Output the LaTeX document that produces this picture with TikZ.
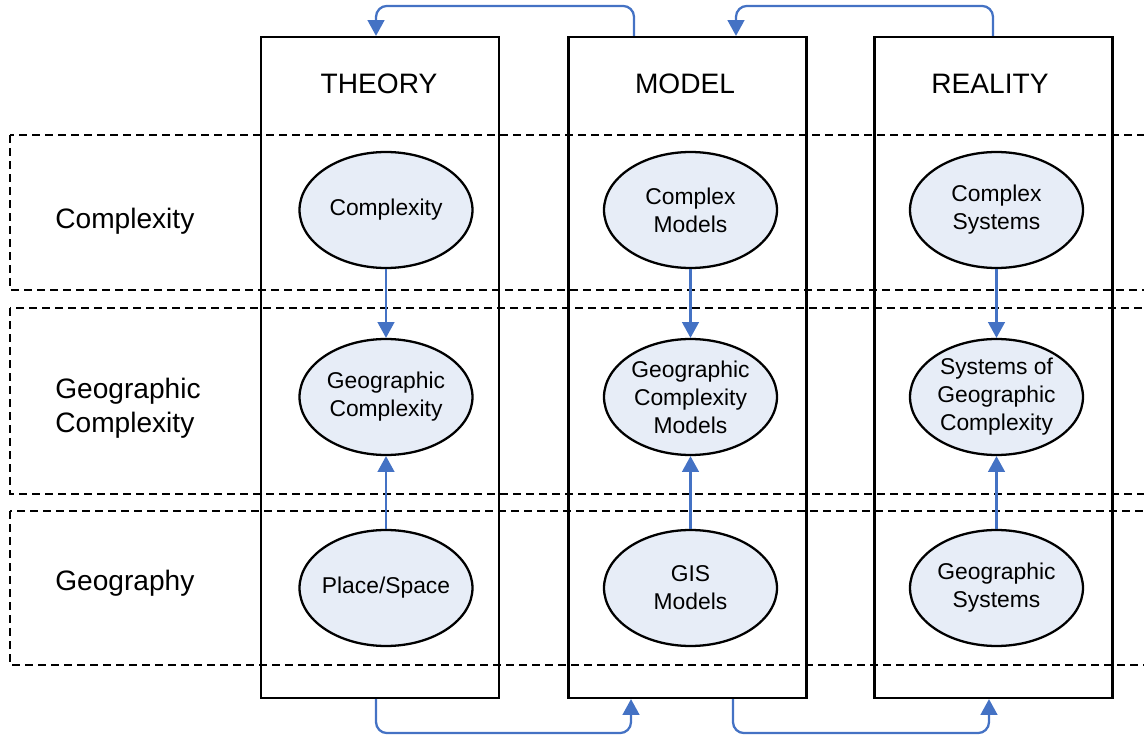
\documentclass[tikz,border=0pt]{standalone}
\usepackage{fontspec}
\setmainfont{Liberation Sans}
\usetikzlibrary{shapes.geometric,arrows.meta}
\definecolor{flowblue}{RGB}{68,114,196}
\definecolor{bubblefill}{RGB}{231,237,247}
\tikzset{
    rowband/.style={line width=1.3pt, dash pattern=on 4.6pt off 2.8pt},
    colbox/.style={draw, line width=1.3pt, minimum width=4.76cm, minimum height=13.22cm, inner sep=0pt},
    coltitle/.style={font=\fontsize{16}{19}\selectfont},
    rowlabel/.style={anchor=west, align=left, inner sep=0pt, font=\fontsize{16}{19.3}\selectfont},
    bubble/.style={ellipse, draw, line width=1.3pt, fill=bubblefill, minimum width=3.46cm, minimum height=2.32cm, inner xsep=-0.12cm, inner ysep=0pt, align=center, font=\fontsize{13}{15.9}\selectfont},
    flow/.style={draw=flowblue, line width=1.3pt, rounded corners=0.22cm, -{Triangle[length=9pt,width=9.5pt]}},
}
\begin{document}
\begin{tikzpicture}[x=0.02cm, y=-0.02cm]
        \useasboundingbox (0,0) rectangle (1144,740);
        \clip (0,0) rectangle (1144,740);

        \draw[rowband] (10,135) rectangle (1170,290);
        \draw[rowband] (10,308) rectangle (1170,494);
        \draw[rowband] (10,511) rectangle (1170,665);

        \node[rowlabel] (rowcx) at (55,221) {Complexity};
        \node[rowlabel] (rowgeocx) at (55,408) {Geographic\\Complexity};
        \node[rowlabel] (rowgeo) at (55,583) {Geography};

        \node[colbox] (theory) at (380,367.5) {};
        \node[colbox] (model) at (687.5,367.5) {};
        \node[colbox] (reality) at (993.5,367.5) {};

        \node[coltitle] (theorytitle) at (379,84) {THEORY};
        \node[coltitle] (modeltitle) at (685,84) {MODEL};
        \node[coltitle] (realitytitle) at (990,84) {REALITY};

        \node[bubble] (complexity) at (386,210) {Complexity};
        \node[bubble] (geocomplexity) at (386,397) {Geographic\\Complexity};
        \node[bubble] (placespace) at (386,588) {Place/Space};

        \node[bubble] (complexmodels) at (690.5,210) {Complex\\Models};
        \node[bubble] (geomodels) at (690.5,397) {Geographic\\Complexity\\Models};
        \node[bubble] (gismodels) at (690.5,588) {GIS\\Models};

        \node[bubble] (complexsystems) at (996.5,210) {Complex\\Systems};
        \node[bubble] (geosystems) at (996.5,397) {Systems of\\Geographic\\Complexity};
        \node[bubble] (geographicsystems) at (996.5,588) {Geographic\\Systems};

        \draw[flow] (complexity) -- (geocomplexity);
        \draw[flow] (placespace) -- (geocomplexity);
        \draw[flow] (complexmodels) -- (geomodels);
        \draw[flow] (gismodels) -- (geomodels);
        \draw[flow] (complexsystems) -- (geosystems);
        \draw[flow] (geographicsystems) -- (geosystems);

        \draw[flow] ([xshift=-1.07cm]model.north) -- ++(0,-30) -| ([xshift=-0.08cm]theory.north);
        \draw[flow] ([xshift=-0.01cm]reality.north) -- ++(0,-30) -| ([xshift=0.97cm]model.north);
        \draw[flow] ([xshift=-0.08cm]theory.south) -- ++(0,34) -| ([xshift=-1.13cm]model.south);
        \draw[flow] ([xshift=0.91cm]model.south) -- ++(0,34) -| ([xshift=-0.09cm]reality.south);
\end{tikzpicture}
\end{document}
